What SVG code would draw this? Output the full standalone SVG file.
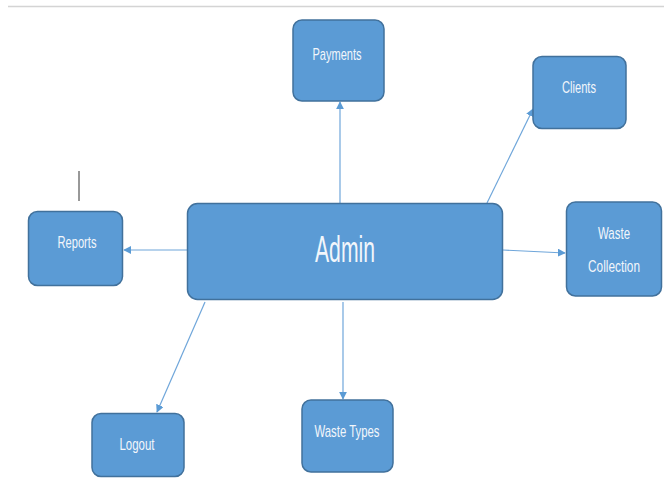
<svg xmlns="http://www.w3.org/2000/svg" width="664" height="478" viewBox="0 0 664 478">
<style>
.box{fill:#5B9BD5;stroke:#41719C;stroke-width:1.5}
.lbl{font-family:"Liberation Sans","Open Sans",sans-serif;font-size:17px;fill:#F2F6FB;text-anchor:middle}
.big{font-size:36px}
.con{stroke:#6FA6DA;stroke-width:1.2;fill:none;marker-end:url(#arr)}
</style>
<defs>
<marker id="arr" viewBox="0 0 10 10" refX="9" refY="5" markerWidth="8" markerHeight="8" markerUnits="userSpaceOnUse" orient="auto">
<path d="M0,0 L10,5 L0,10 z" fill="#5B9BD5"/>
</marker>
</defs>
<rect width="664" height="478" fill="#FFFFFF"/>
<line x1="8" y1="6.5" x2="664" y2="6.5" stroke="#D4D4D4" stroke-width="1.5"/>
<line x1="79" y1="171" x2="79" y2="201" stroke="#333333" stroke-width="1"/>
<g id="connectors">
<line class="con" x1="340" y1="203" x2="340" y2="102"/>
<line class="con" x1="487" y1="203" x2="533" y2="109"/>
<line class="con" x1="187" y1="250" x2="124" y2="250"/>
<line class="con" x1="503" y1="250" x2="565" y2="253"/>
<line class="con" x1="205" y1="302" x2="157" y2="412"/>
<line class="con" x1="343" y1="302" x2="343" y2="399"/>
</g>
<g id="admin">
<rect class="box" x="187.5" y="203.5" width="315" height="96" rx="10"/>
<text class="lbl big" x="345" y="262" textLength="60" lengthAdjust="spacingAndGlyphs">Admin</text>
</g>
<g id="payments">
<rect class="box" x="293" y="20" width="91" height="81" rx="9"/>
<text class="lbl" x="337" y="60" textLength="49" lengthAdjust="spacingAndGlyphs">Payments</text>
</g>
<g id="clients">
<rect class="box" x="533" y="56.5" width="93" height="72" rx="9"/>
<text class="lbl" x="579" y="93" textLength="34" lengthAdjust="spacingAndGlyphs">Clients</text>
</g>
<g id="reports">
<rect class="box" x="28.5" y="211.5" width="94" height="74" rx="9"/>
<text class="lbl" x="77" y="248" textLength="39" lengthAdjust="spacingAndGlyphs">Reports</text>
</g>
<g id="waste-collection">
<rect class="box" x="566.5" y="202" width="95" height="94" rx="9"/>
<text class="lbl" x="614" y="239" textLength="32" lengthAdjust="spacingAndGlyphs">Waste</text>
<text class="lbl" x="614" y="272" textLength="52" lengthAdjust="spacingAndGlyphs">Collection</text>
</g>
<g id="logout">
<rect class="box" x="92" y="413.5" width="92" height="63" rx="9"/>
<text class="lbl" x="137" y="450" textLength="35" lengthAdjust="spacingAndGlyphs">Logout</text>
</g>
<g id="waste-types">
<rect class="box" x="302" y="400" width="91" height="72" rx="9"/>
<text class="lbl" x="347" y="437" textLength="65" lengthAdjust="spacingAndGlyphs">Waste Types</text>
</g>
</svg>
